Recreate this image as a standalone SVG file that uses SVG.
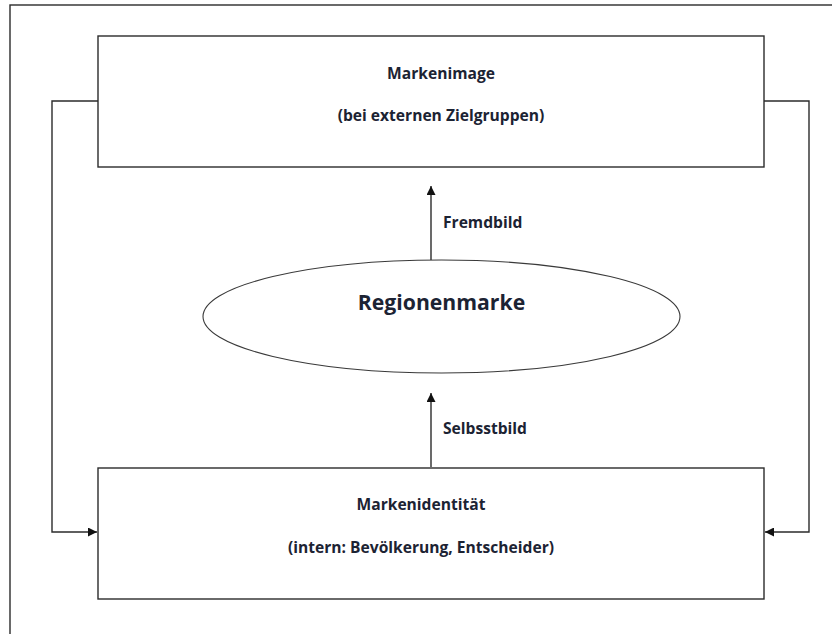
<svg xmlns="http://www.w3.org/2000/svg" width="832" height="634" viewBox="0 0 832 634">
  <style>
    .box { fill: #ffffff; stroke: #2b2b2b; stroke-width: 1.4; }
    .frame { fill: none; stroke: #2b2b2b; stroke-width: 1.4; }
    .ell { fill: #ffffff; stroke: #3a3a3a; stroke-width: 1.1; }
    .conn { fill: none; stroke: #2b2b2b; stroke-width: 1.4; }
    .t { font-family: "Open Sans", "Noto Sans", "Liberation Sans", sans-serif; font-weight: bold; fill: #1c2333; font-size: 15.6px; }
    .big { font-size: 21.2px; }
    .mid { text-anchor: middle; }
  </style>
  <defs>
    <marker id="arr" viewBox="0 0 10 10" refX="10" refY="5" markerWidth="11" markerHeight="9" markerUnits="userSpaceOnUse" orient="auto">
      <path d="M0,0 L10,5 L0,10 Z" fill="#111111"/>
    </marker>
  </defs>
  <rect width="832" height="634" fill="#ffffff"/>
  <rect class="frame" x="10" y="5" width="840" height="650"/>

  <g id="connectors">
    <polyline class="conn" points="98,101 52,101 52,532 97,532" marker-end="url(#arr)"/>
    <polyline class="conn" points="764,101 809,101 809,532 765,532" marker-end="url(#arr)"/>
    <line class="conn" x1="431" y1="260" x2="431" y2="186" marker-end="url(#arr)"/>
    <line class="conn" x1="431" y1="467" x2="431" y2="393" marker-end="url(#arr)"/>
    <text class="t" x="443" y="228">Fremdbild</text>
    <text class="t" x="443" y="434">Selbsstbild</text>
  </g>

  <g id="markenimage">
    <rect class="box" x="98" y="36" width="666" height="131"/>
    <text class="t mid" x="441" y="79">Markenimage</text>
    <text class="t mid" x="441" y="121">(bei externen Zielgruppen)</text>
  </g>

  <g id="regionenmarke">
    <ellipse class="ell" cx="441.5" cy="316.5" rx="238.5" ry="56.5"/>
    <text class="t big mid" x="441.5" y="310">Regionenmarke</text>
  </g>

  <g id="markenidentitaet">
    <rect class="box" x="98" y="468" width="666" height="131"/>
    <text class="t mid" x="421" y="510">Markenidentität</text>
    <text class="t mid" x="421" y="553">(intern: Bevölkerung, Entscheider)</text>
  </g>
</svg>
